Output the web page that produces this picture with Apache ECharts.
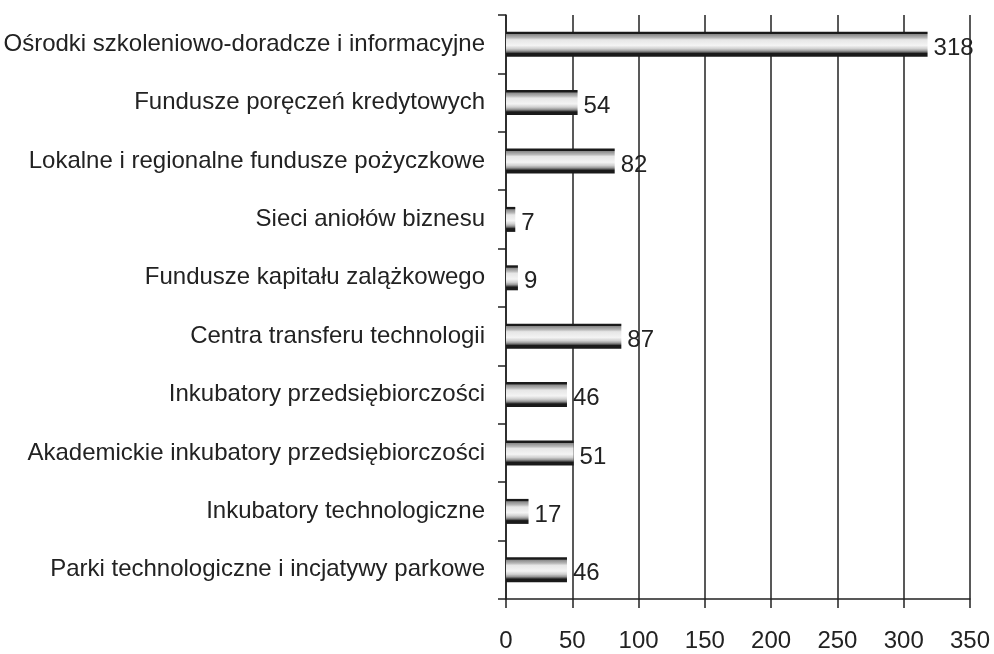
<!DOCTYPE html>
<html>
<head>
<meta charset="utf-8">
<script src="https://cdn.jsdelivr.net/npm/echarts@6/dist/echarts.min.js"></script>
<style>
  html, body { margin: 0; padding: 0; background: #fff; }
  #chart { width: 994px; height: 654px; }
</style>
</head>
<body>
<div id="chart"></div>
<script>
// kategorie od góry do dołu
const categories = [
  'Ośrodki szkoleniowo-doradcze i informacyjne',
  'Fundusze poręczeń kredytowych',
  'Lokalne i regionalne fundusze pożyczkowe',
  'Sieci aniołów biznesu',
  'Fundusze kapitału zalążkowego',
  'Centra transferu technologii',
  'Inkubatory przedsiębiorczości',
  'Akademickie inkubatory przedsiębiorczości',
  'Inkubatory technologiczne',
  'Parki technologiczne i incjatywy parkowe'
]
const values = [318, 54, 82, 7, 9, 87, 46, 51, 17, 46]
const xTicks = [0, 50, 100, 150, 200, 250, 300, 350]

const font = 'Liberation Sans, Arial, sans-serif'

// metaliczny gradient paska (pionowo)
const barFill = new echarts.graphic.LinearGradient(0, 0, 0, 1, [
  { offset: 0, color: '#1a1a1a' },
  { offset: 0.08, color: '#1a1a1a' },
  { offset: 0.11, color: '#8a8a8a' },
  { offset: 0.24, color: '#b8b8b8' },
  { offset: 0.32, color: '#e6e6e6' },
  { offset: 0.55, color: '#f4f4f4' },
  { offset: 0.68, color: '#d0d0d0' },
  { offset: 0.77, color: '#9a9a9a' },
  { offset: 0.83, color: '#555' },
  { offset: 0.87, color: '#1a1a1a' },
  { offset: 1, color: '#1a1a1a' }
])

const chart = echarts.init(document.getElementById('chart'))
chart.setOption({
  animation: false,
  grid: { left: 506, right: 24, top: 15, bottom: 55 },
  xAxis: {
    type: 'value',
    min: xTicks[0],
    max: xTicks[xTicks.length - 1],
    interval: 50,
    axisLine: { show: true, lineStyle: { color: '#222', width: 1.5 } },
    axisTick: { show: true, length: 9, lineStyle: { color: '#222', width: 1.5 } },
    axisLabel: { color: '#222', fontSize: 24, fontFamily: font, margin: 30 },
    splitLine: { show: true, lineStyle: { color: '#222', width: 1.5 } }
  },
  yAxis: {
    type: 'category',
    inverse: true,
    data: categories,
    axisLine: { show: true, lineStyle: { color: '#222', width: 1.5 } },
    axisTick: { show: true, length: 8, lineStyle: { color: '#222', width: 1.5 } },
    axisLabel: { color: '#222', fontSize: 24, fontFamily: font, margin: 21, padding: [5, 0, 0, 0] }
  },
  series: [{
    type: 'bar',
    data: values,
    barWidth: 25,
    itemStyle: { color: barFill },
    label: {
      show: true,
      position: 'right',
      distance: 6,
      offset: [0, 4],
      color: '#222',
      fontSize: 24,
      fontFamily: font
    }
  }]
})
</script>
</body>
</html>
